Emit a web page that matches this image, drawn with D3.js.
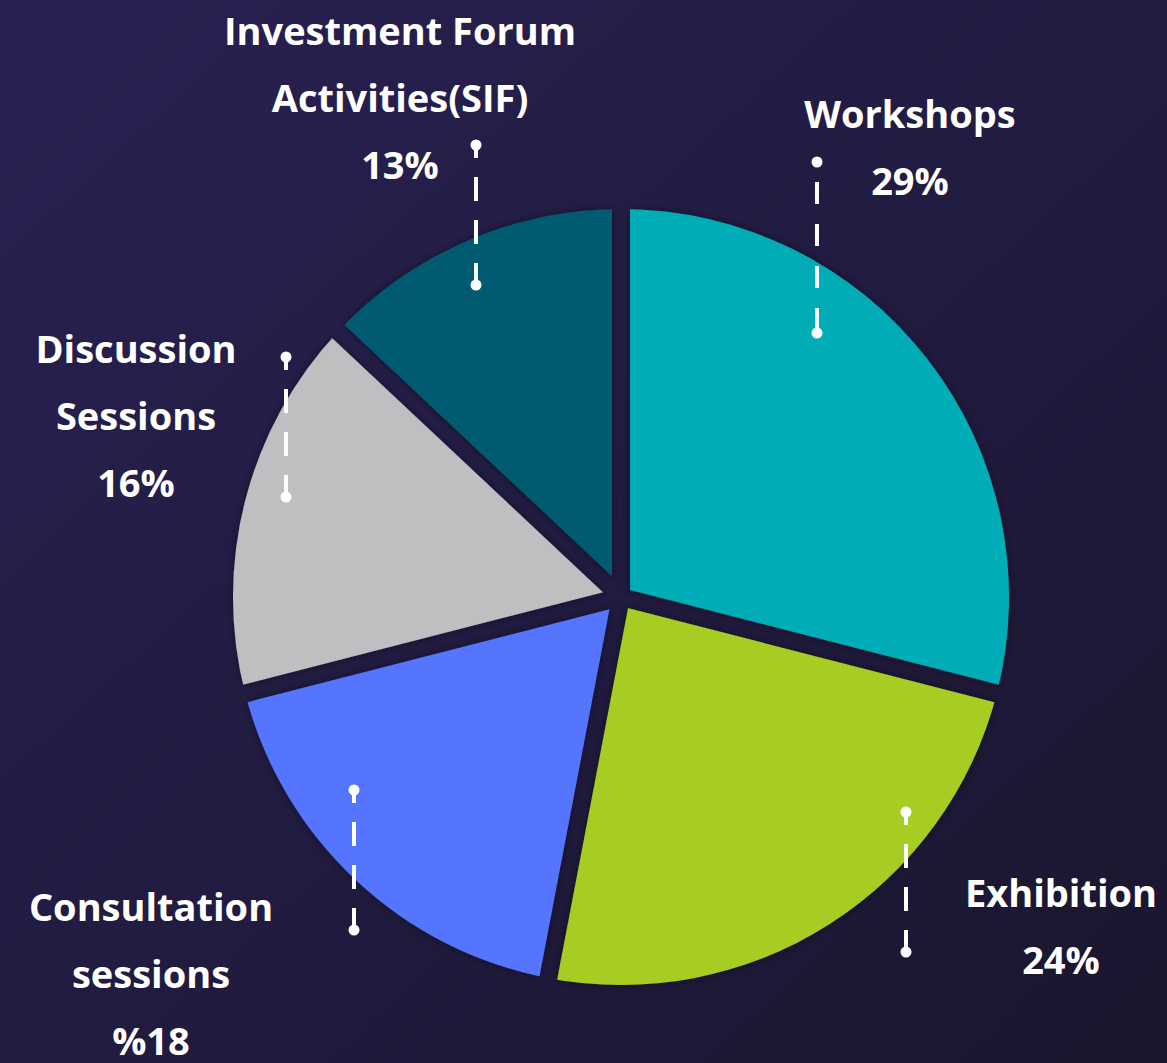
<!DOCTYPE html>
<html>
<head>
<meta charset="utf-8">
<script src="https://cdn.jsdelivr.net/npm/d3@7"></script>
<style>
  html, body { margin: 0; padding: 0; background: #221c42; }
  svg { display: block; }
  text { font-family: "Open Sans", "DejaVu Sans", sans-serif; font-weight: 700; fill: #ffffff; }
</style>
</head>
<body>
<script>
// Share of programme activities (percent)
const categories = ["Workshops", "Exhibition", "Consultation sessions", "Discussion Sessions", "Investment Forum Activities(SIF)"];
const values = [29, 24, 18, 16, 13];
// Label text, split into display lines
const nameLines = [
  ["Workshops"],
  ["Exhibition"],
  ["Consultation", "sessions"],
  ["Discussion", "Sessions"],
  ["Investment Forum", "Activities(SIF)"]
];
// Consultation sessions shows the percent sign first
const percentFirst = [false, false, true, false, false];

const palette = ["#00adb7", "#a8cd20", "#5474fe", "#bebfc1", "#005a6f"];

// Layout
const width = 1167, height = 1063;
const cx = 621, cy = 597, radius = 388, gap = 18;
const fontSize = 38, lineStep = 67;
// Label anchor: centre x and baseline of first line
const labelPos = [
  { x: 910, y: 128 },
  { x: 1061, y: 907 },
  { x: 151, y: 921 },
  { x: 136, y: 363 },
  { x: 400, y: 45 }
];
// Dashed pointer: x, top, bottom, dash offset
const pointers = [
  { x: 817, y1: 162, y2: 333, dash: "22 20", offset: 22 },
  { x: 906, y1: 812, y2: 952, dash: "24 19", offset: 11 },
  { x: 354, y1: 790, y2: 930, dash: "24 19", offset: 11 },
  { x: 286, y1: 357, y2: 497, dash: "24 19", offset: 11 },
  { x: 476, y1: 145, y2: 285, dash: "24 19", offset: 11 }
];

const svg = d3.select("body").append("svg")
  .attr("width", width)
  .attr("height", height);

const defs = svg.append("defs");

const bg = defs.append("linearGradient")
  .attr("id", "bg")
  .attr("x1", "0").attr("y1", "0").attr("x2", "1").attr("y2", "1");
bg.append("stop").attr("offset", "0%").attr("stop-color", "#292153");
bg.append("stop").attr("offset", "55%").attr("stop-color", "#201b3f");
bg.append("stop").attr("offset", "100%").attr("stop-color", "#1a162d");

const shadow = defs.append("filter")
  .attr("id", "shadow")
  .attr("x", "-20%").attr("y", "-20%").attr("width", "140%").attr("height", "140%");
shadow.append("feDropShadow")
  .attr("dx", 0).attr("dy", 0)
  .attr("stdDeviation", 4)
  .attr("flood-color", "#0c0a1a")
  .attr("flood-opacity", 0.45);

svg.append("rect")
  .attr("width", width)
  .attr("height", height)
  .attr("fill", "url(#bg)");

const data = categories.map((c, i) => ({ name: c, value: values[i], index: i }));

const pie = d3.pie()
  .value(d => d.value)
  .sort(null);

const arcs = pie(data);

const arc = d3.arc()
  .innerRadius(0)
  .outerRadius(radius);

// Mask cuts an even-width gap along every slice boundary
const mask = defs.append("mask")
  .attr("id", "gaps")
  .attr("maskUnits", "userSpaceOnUse")
  .attr("x", 0).attr("y", 0).attr("width", width).attr("height", height);
mask.append("rect")
  .attr("width", width).attr("height", height)
  .attr("fill", "#fff");
mask.append("g")
  .attr("transform", `translate(${cx},${cy})`)
  .selectAll("line")
  .data(arcs)
  .join("line")
  .attr("x1", 0).attr("y1", 0)
  .attr("x2", d => Math.sin(d.startAngle) * (radius + 30))
  .attr("y2", d => -Math.cos(d.startAngle) * (radius + 30))
  .attr("stroke", "#000")
  .attr("stroke-width", gap);

const pieGroup = svg.append("g")
  .attr("filter", "url(#shadow)")
  .append("g")
  .attr("mask", "url(#gaps)")
  .append("g")
  .attr("transform", `translate(${cx},${cy})`);

pieGroup.selectAll("path")
  .data(arcs)
  .join("path")
  .attr("d", arc)
  .attr("fill", d => palette[d.data.index]);

// Dashed pointers with round end dots
const ptr = svg.append("g")
  .selectAll("g")
  .data(pointers)
  .join("g");

ptr.append("line")
  .attr("x1", d => d.x).attr("x2", d => d.x)
  .attr("y1", d => d.y1).attr("y2", d => d.y2)
  .attr("stroke", "#fff")
  .attr("stroke-width", 4)
  .attr("stroke-dasharray", d => d.dash)
  .attr("stroke-dashoffset", d => d.offset);

ptr.append("circle")
  .attr("cx", d => d.x).attr("cy", d => d.y1).attr("r", 5.5)
  .attr("fill", "#fff");
ptr.append("circle")
  .attr("cx", d => d.x).attr("cy", d => d.y2).attr("r", 5.5)
  .attr("fill", "#fff");

// Category names and percentages
const labels = svg.append("g")
  .selectAll("text")
  .data(arcs)
  .join("text")
  .attr("text-anchor", "middle")
  .attr("font-size", fontSize)
  .attr("x", d => labelPos[d.data.index].x)
  .attr("y", d => labelPos[d.data.index].y);

labels.each(function(d) {
  const i = d.data.index;
  const t = d3.select(this);
  const lines = nameLines[i].concat([percentFirst[i] ? "%" + d.data.value : d.data.value + "%"]);
  lines.forEach((line, k) => {
    t.append("tspan")
      .attr("x", labelPos[i].x)
      .attr("dy", k === 0 ? 0 : lineStep)
      .text(line);
  });
});
</script>
</body>
</html>
